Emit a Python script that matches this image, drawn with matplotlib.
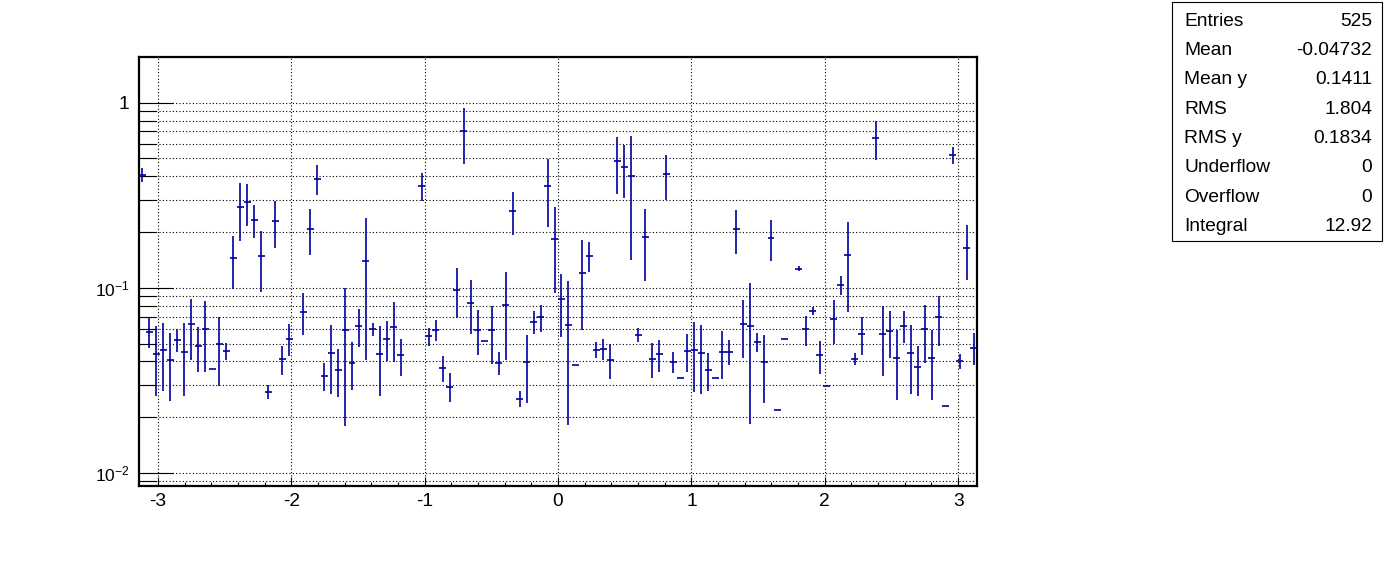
import matplotlib
matplotlib.use('Agg')
import numpy as np
import matplotlib.pyplot as plt
from matplotlib.ticker import MultipleLocator, FixedLocator, FixedFormatter, NullFormatter, LogLocator
from matplotlib.patches import Rectangle

plt.rcParams['font.family'] = ['Liberation Sans', 'DejaVu Sans']
plt.rcParams['mathtext.fontset'] = 'custom'
plt.rcParams['mathtext.rm'] = 'Liberation Sans'
plt.rcParams['axes.unicode_minus'] = False

# profile: 120 bins over [-pi, pi], 0 = empty bin
nbins = 120
xlow, xup = -np.pi, np.pi

profile_y = [
    0.408, 0.0579, 0.0441, 0.0463, 0.0409, 0.0524, 0.0452, 0.064, 0.0483, 0.0601,
    0.0366, 0.0495, 0.0457, 0.145, 0.2733, 0.291, 0.2326, 0.1488, 0.0275, 0.2297,
    0.0414, 0.0531, 0, 0.0743, 0.208, 0.388, 0.0335, 0.0446, 0.0361, 0.0589,
    0.0394, 0.0624, 0.1398, 0.0596, 0.0441, 0.0531, 0.0616, 0.0431, 0, 0,
    0.3548, 0.0546, 0.0594, 0.037, 0.0293, 0.0979, 0.702, 0.083, 0.0594, 0.0518,
    0.0594, 0.0394, 0.081, 0.26, 0.0252, 0.0399, 0.0656, 0.0692, 0.3548, 0.1837,
    0.0865, 0.0632, 0.0381, 0.1205, 0.1488, 0.0463, 0.0469, 0.0409, 0.4856, 0.449,
    0.4016, 0.0558, 0.1883, 0.0414, 0.0437, 0.4117, 0.0399, 0.0327, 0.0457, 0.0463,
    0.0446, 0.0361, 0.0327, 0.0452, 0.0452, 0.208, 0.064, 0.0624, 0.0512, 0.0399,
    0.186, 0.0218, 0.0531, 0, 0.1266, 0.0596, 0.0752, 0.0431, 0.0295, 0.0675,
    0.1038, 0.1506, 0.0414, 0.0565, 0, 0.6435, 0.0565, 0.0583, 0.0419, 0.0624,
    0.0446, 0.0375, 0.0601, 0.0419, 0.0698, 0.0231, 0.5212, 0.0402, 0.1643, 0.0475,
]
profile_err = [
    0.037, 0.0105, 0.018, 0.0185, 0.0164, 0.0076, 0.019, 0.023, 0.013, 0.025,
    0, 0.02, 0.0048, 0.046, 0.094, 0.075, 0.047, 0.054, 0.0023, 0.066,
    0.0074, 0.0103, 0, 0.019, 0.057, 0.07, 0.0057, 0.018, 0.0104, 0.041,
    0.0114, 0.0145, 0.099, 0.0047, 0.018, 0.013, 0.022, 0.0096, 0, 0,
    0.06, 0.0058, 0.0076, 0.006, 0.0052, 0.0295, 0.233, 0.027, 0.0163, 0,
    0.0205, 0.0057, 0.0404, 0.068, 0.0024, 0.016, 0.0094, 0.0113, 0.143, 0.09,
    0.032, 0.045, 0, 0.061, 0.027, 0.0047, 0.0063, 0.0088, 0.164, 0.145,
    0.26, 0.0048, 0.079, 0.0087, 0.0085, 0.112, 0.0053, 0, 0.0108, 0.019,
    0.018, 0.0084, 0, 0.013, 0.0069, 0.056, 0.022, 0.044, 0.006, 0.016,
    0.047, 0, 0, 0, 0.004, 0.011, 0.0039, 0.0087, 0, 0.018,
    0.0123, 0.077, 0.0033, 0.013, 0, 0.151, 0.023, 0.0165, 0.017, 0.0123,
    0.018, 0.0113, 0.021, 0.017, 0.021, 0, 0.054, 0.0037, 0.054, 0.0092,
]

stat_names = ['Entries', 'Mean', 'Mean y', 'RMS', 'RMS y', 'Underflow', 'Overflow', 'Integral']
stat_values = ['525', '-0.04732', '0.1411', '1.804', '0.1834', '0', '0', '12.92']

ytick_vals = [0.01, 0.1, 1]
ytick_text = [r'$\mathregular{10^{-2}}$', r'$\mathregular{10^{-1}}$', '1']

color = '#00009C'

edges = np.linspace(xlow, xup, nbins + 1)
centers = 0.5 * (edges[:-1] + edges[1:])
halfw = 0.5 * (edges[1] - edges[0])
y = np.array(profile_y)
e = np.array(profile_err)
filled = y > 0

fig = plt.figure(figsize=(13.96, 5.72), dpi=100)
W, H = 1396, 572
ax = fig.add_axes([139 / W, 1 - 486 / H, (977 - 139) / W, (486 - 57) / H])

ax.errorbar(centers[filled], y[filled], yerr=e[filled], xerr=halfw, fmt='none',
            ecolor=color, elinewidth=1.2, capsize=0, zorder=3)

ax.set_xlim(xlow, xup)
ax.set_yscale('log')
ax.set_ylim(0.0085, 1.766)

ax.xaxis.set_major_locator(MultipleLocator(1))
ax.xaxis.set_minor_locator(MultipleLocator(0.2))
ax.yaxis.set_major_locator(FixedLocator(ytick_vals))
ax.yaxis.set_major_formatter(FixedFormatter(ytick_text))
ax.yaxis.set_minor_locator(LogLocator(base=10, subs=np.arange(2, 10)))
ax.yaxis.set_minor_formatter(NullFormatter())

ax.tick_params(axis='both', which='both', direction='in', top=False, right=False,
               width=0.8, colors='black')
ax.tick_params(axis='y', which='major', length=24.5, pad=7, labelsize=13.8)
ax.tick_params(axis='y', which='minor', length=12.2)
ax.tick_params(axis='x', which='major', length=6.5, pad=5, labelsize=13.8)
ax.tick_params(axis='x', which='minor', length=3)
for lab in ax.get_yticklabels()[:2]:
    lab.set_fontsize(12.5)

ax.grid(True, axis='y', which='both', color='black', linestyle=(0, (1, 2)), linewidth=0.8)
ax.grid(True, axis='x', which='major', color='black', linestyle=(0, (1, 2)), linewidth=0.8)
ax.set_axisbelow(True)
for s in ax.spines.values():
    s.set_linewidth(1.6)

# stats box
fig.patches.append(Rectangle((1172 / W, 1 - 241 / H), (1382 - 1172) / W, (241 - 2) / H,
                             transform=fig.transFigure, fill=False, edgecolor='black', linewidth=0.8))
for i, (n, v) in enumerate(zip(stat_names, stat_values)):
    ypix = 21 + 29.4 * i
    fig.text(1184 / W, 1 - ypix / H, n, fontsize=13.8, va='center', ha='left')
    fig.text(1372 / W, 1 - ypix / H, v, fontsize=13.8, va='center', ha='right')

fig.savefig('out.png', dpi=100)
